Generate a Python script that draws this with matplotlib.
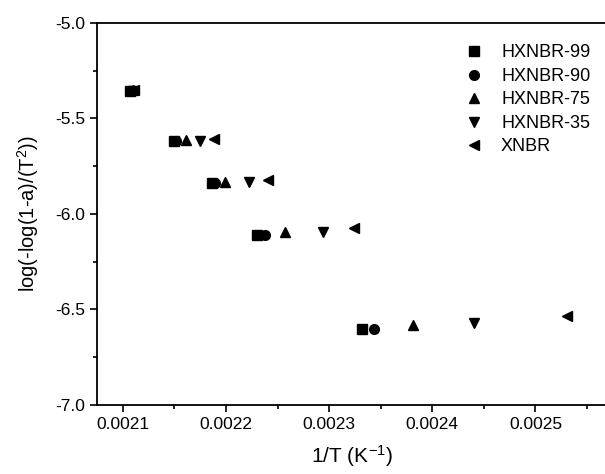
import matplotlib
matplotlib.use("Agg")
import matplotlib.pyplot as plt
from matplotlib.ticker import MultipleLocator

plt.rcParams['font.family'] = ['Liberation Sans', 'DejaVu Sans']
plt.rcParams['mathtext.fontset'] = 'custom'
plt.rcParams['mathtext.rm'] = 'Liberation Sans'
plt.rcParams['mathtext.it'] = 'Liberation Sans:italic'
plt.rcParams['mathtext.default'] = 'regular'

series_names = ["HXNBR-99", "HXNBR-90", "HXNBR-75", "HXNBR-35", "XNBR"]
markers = ["s", "o", "^", "v", "<"]

x_hxnbr99 = [0.002107, 0.002150, 0.002186, 0.002230, 0.002332]
y_hxnbr99 = [-5.354, -5.616, -5.837, -6.110, -6.602]
x_hxnbr90 = [0.002108, 0.002152, 0.002189, 0.002238, 0.002343]
y_hxnbr90 = [-5.354, -5.616, -5.837, -6.108, -6.602]
x_hxnbr75 = [0.002110, 0.002161, 0.002199, 0.002257, 0.002381]
y_hxnbr75 = [-5.352, -5.613, -5.832, -6.093, -6.581]
x_hxnbr35 = [0.002110, 0.002175, 0.002222, 0.002294, 0.002440]
y_hxnbr35 = [-5.354, -5.620, -5.835, -6.093, -6.569]
x_xnbr = [0.002111, 0.002188, 0.002241, 0.002324, 0.002531]
y_xnbr = [-5.352, -5.606, -5.822, -6.075, -6.534]

xs = [x_hxnbr99, x_hxnbr90, x_hxnbr75, x_hxnbr35, x_xnbr]
ys = [y_hxnbr99, y_hxnbr90, y_hxnbr75, y_hxnbr35, y_xnbr]

fig = plt.figure(figsize=(6.05, 4.74), dpi=100)
ax = fig.add_axes([0.16, 0.1456, 1.005 - 0.16, 0.9515 - 0.1456])

for xv, yv, m, name in zip(xs, ys, markers, series_names):
    ax.plot(xv, yv, linestyle='none', marker=m, color='black',
            markersize=7, label=name)

ax.set_xlim(0.0020748, 0.0025703)
ax.set_ylim(-7.0, -5.0)
ax.xaxis.set_major_locator(MultipleLocator(0.0001))
ax.xaxis.set_minor_locator(MultipleLocator(0.00005))
ax.yaxis.set_major_locator(MultipleLocator(0.5))
ax.yaxis.set_minor_locator(MultipleLocator(0.25))
ax.xaxis.set_major_formatter(plt.FuncFormatter(lambda v, p: f"{v:.4f}"))
ax.yaxis.set_major_formatter(plt.FuncFormatter(lambda v, p: f"{v:.1f}"))
ax.tick_params(which='major', direction='out', length=5, width=1.2, labelsize=12.5)
ax.tick_params(which='minor', direction='out', length=3, width=1.2)
for s in ax.spines.values():
    s.set_linewidth(1.3)

ax.set_xlabel("1/T (K$^{-1}$)", fontsize=15, labelpad=8)
ax.set_ylabel("log(-log(1-a)/(T$^{2}$))", fontsize=14.5, labelpad=10)

leg = ax.legend(loc='upper left', bbox_to_anchor=(0.706, 0.963), frameon=False,
                fontsize=13, handletextpad=1.0, labelspacing=0.36,
                handlelength=1.0, borderaxespad=0.0)

fig.savefig("out.png", dpi=100)
